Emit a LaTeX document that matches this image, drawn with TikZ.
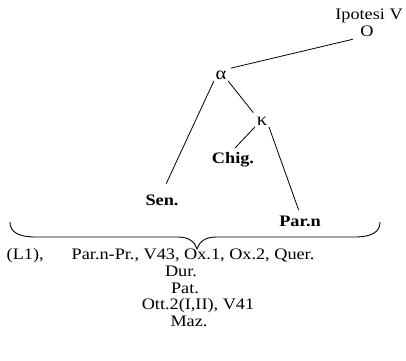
\documentclass[tikz,border=0pt]{standalone}
\usepackage{fontspec}
\setmainfont{Liberation Serif}[FakeStretch=1.14]
\begin{document}
\begin{tikzpicture}[x=1pt,y=-1pt,
  txt/.style={font=\fontsize{16}{18}\selectfont, inner sep=1.5pt, anchor=base},
  lbl/.style={font=\fontsize{16}{18}\selectfont\bfseries, inner sep=1.5pt, anchor=base},
  grk/.style={font=\fontsize{18}{20}\selectfont, inner sep=1.5pt, anchor=base},
  ln/.style={line width=0.8pt, black}]
\useasboundingbox (0,0) rectangle (406,360);
% tree
\node[txt] (ipo) at (369,19) {Ipotesi V};
\node[txt] (O) at (367,36) {O};
\node[grk] (alpha) at (221,79) {α};
\node[grk] (kappa) at (262,125) {κ};
\node[lbl] (chig) at (233,163) {Chig.};
\node[lbl] (sen) at (162,205) {Sen.};
\node[lbl] (parn) at (300,226) {Par.n};
\draw[ln, shorten <=6pt, shorten >=3pt] (O.south west) -- (alpha.north east);
\draw[ln, shorten >=10pt] (alpha.south west) -- (sen.north);
\draw[ln, shorten >=3pt] (alpha.south east) -- (kappa.north west);
\draw[ln, shorten >=3pt] (kappa.south west) -- (chig.north);
\draw[ln, shorten >=4pt] (kappa.south east) -- (parn.north);
% brace
\coordinate (bl) at (10,222);
\coordinate (br) at (380,222);
\coordinate (btip) at (197,249);
\draw[ln, line width=0.9pt] (bl) .. controls (10,232) and (18,237) .. (36,237)
  -- (178,237) .. controls (189,237) and (195,242) .. (btip)
  .. controls (199,242) and (205,237) .. (216,237)
  -- (354,237) .. controls (372,237) and (380,232) .. (br);
% bottom texts
\node[txt, anchor=base west] (l1) at (5,259) {(L1),};
\node[txt, anchor=base west] (line1) at (70,259) {Par.n-Pr., V43, Ox.1, Ox.2, Quer.};
\node[txt] (dur) at (181,276) {Dur.};
\node[txt] (pat) at (185,293) {Pat.};
\node[txt] (ott) at (198,309) {Ott.2(I,II), V41};
\node[txt] (maz) at (189,326) {Maz.};
\end{tikzpicture}
\end{document}
